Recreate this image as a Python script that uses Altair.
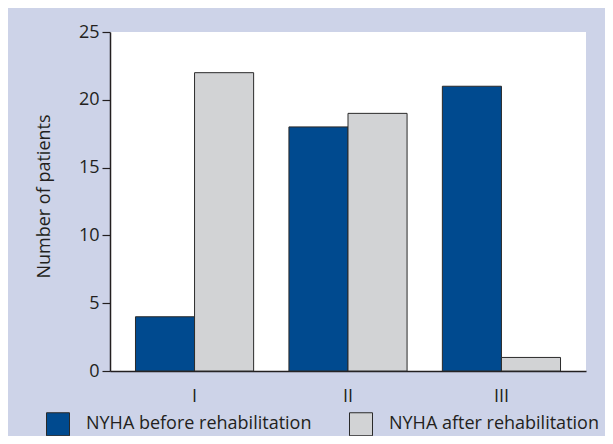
import altair as alt
import pandas as pd

classes = ["I", "II", "III"]
phases = ["NYHA before rehabilitation", "NYHA after rehabilitation"]
before = [4, 18, 21]
after = [22, 19, 1]
colors = ["#004a8f", "#d2d3d5"]
y_ticks = [0, 5, 10, 15, 20, 25]

rows = []
for c, b, a in zip(classes, before, after):
    rows.append({"cls": c, "phase": phases[0], "n": b})
    rows.append({"cls": c, "phase": phases[1], "n": a})
df = pd.DataFrame(rows)

FONT = "Open Sans"
TXT = "#231f20"

chart = alt.Chart(df).mark_bar(stroke="#2a2a2a", strokeWidth=1).encode(
    x=alt.X("cls:N", sort=classes, title=None,
            scale=alt.Scale(paddingInner=0.23, paddingOuter=0.166),
            axis=alt.Axis(labelAngle=0, ticks=False, domainColor="#231f20",
                          domainWidth=1.5, labelFontSize=18, labelPadding=16,
                          labelColor=TXT, labelFont=FONT)),
    xOffset=alt.XOffset("phase:N", sort=phases, scale=alt.Scale(paddingInner=0, paddingOuter=0)),
    y=alt.Y("n:Q", title="Number of patients",
            scale=alt.Scale(domain=[0, 25], nice=False),
            axis=alt.Axis(values=y_ticks, grid=False, domainColor="#231f20",
                          domainWidth=1.5, tickColor="#231f20", tickSize=8,
                          tickWidth=1.2, labelFontSize=18, labelPadding=3,
                          labelColor=TXT, labelFont=FONT,
                          titleFont=FONT, titleFontSize=18, titleFontWeight="normal",
                          titleColor=TXT, titleX=-57, titleY=164)),
    color=alt.Color("phase:N", sort=phases,
                    scale=alt.Scale(domain=phases, range=colors),
                    legend=alt.Legend(title=None, orient="none", legendX=-64, legendY=380,
                                      direction="horizontal", symbolType="square",
                                      symbolSize=529, symbolStrokeColor="#2a2a2a",
                                      symbolStrokeWidth=1, labelFontSize=18,
                                      labelFont=FONT, labelColor=TXT, labelOffset=16,
                                      columnPadding=35, padding=0, labelLimit=400)),
).properties(
    width=476, height=339,
    background="#cdd3e8",
    padding={"left": 102, "top": 24, "right": 19, "bottom": 65},
    autosize=alt.AutoSizeParams(type="none"),
).configure_view(fill="white", strokeWidth=0)

chart.save("out.html", embed_options={"renderer": "svg", "actions": False})
